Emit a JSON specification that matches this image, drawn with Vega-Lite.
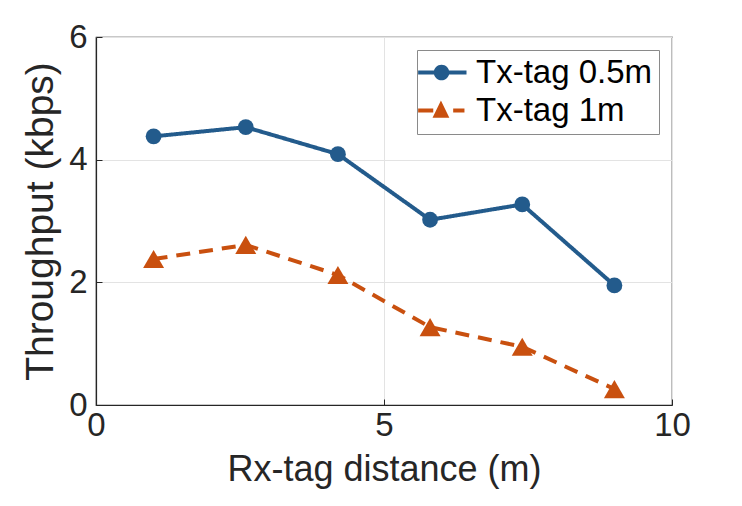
{
  "$schema": "https://vega.github.io/schema/vega-lite/v6.json",
  "width": 576,
  "height": 368,
  "autosize": {"type": "none"},
  "padding": {"left": 96, "top": 37, "right": 70, "bottom": 101},
  "background": "white",
  "config": {
    "font": "Liberation Sans",
    "view": {"stroke": "#262626", "strokeWidth": 1.2},
    "axis": {
      "domainColor": "#262626",
      "domainWidth": 1.2,
      "tickColor": "#262626",
      "tickSize": -6,
      "tickWidth": 1,
      "gridColor": "#e3e3e3",
      "gridWidth": 1,
      "labelFlush": false,
      "labelFont": "Liberation Sans",
      "labelFontSize": 33,
      "labelColor": "#262626",
      "titleFont": "Liberation Sans",
      "titleFontWeight": "normal",
      "titleColor": "#262626"
    },
    "legend": {
      "orient": "none",
      "legendX": 321,
      "legendY": 13,
      "padding": 6,
      "strokeColor": "#8a8a8a",
      "fillColor": "white",
      "labelFont": "Liberation Sans",
      "labelFontSize": 33,
      "labelColor": "black",
      "labelLimit": 400,
      "labelOffset": 20,
      "rowPadding": 4,
      "symbolSize": 576,
      "symbolStrokeWidth": 0,
      "symbolOpacity": 1
    }
  },
  "data": {
    "values": [
      {"x": 1.0, "y": 4.38, "series": "Tx-tag 0.5m"},
      {"x": 2.6, "y": 4.53, "series": "Tx-tag 0.5m"},
      {"x": 4.2, "y": 4.09, "series": "Tx-tag 0.5m"},
      {"x": 5.8, "y": 3.02, "series": "Tx-tag 0.5m"},
      {"x": 7.4, "y": 3.27, "series": "Tx-tag 0.5m"},
      {"x": 9.0, "y": 1.95, "series": "Tx-tag 0.5m"},
      {"x": 1.0, "y": 2.38, "series": "Tx-tag 1m"},
      {"x": 2.6, "y": 2.61, "series": "Tx-tag 1m"},
      {"x": 4.2, "y": 2.12, "series": "Tx-tag 1m"},
      {"x": 5.8, "y": 1.27, "series": "Tx-tag 1m"},
      {"x": 7.4, "y": 0.95, "series": "Tx-tag 1m"},
      {"x": 9.0, "y": 0.26, "series": "Tx-tag 1m"}
    ]
  },
  "encoding": {
    "x": {
      "field": "x",
      "type": "quantitative",
      "scale": {"domain": [0, 10], "nice": false},
      "axis": {
        "values": [0, 5, 10],
        "title": "Rx-tag distance (m)",
        "titleFontSize": 36,
        "labelPadding": 10,
        "titlePadding": 10
      }
    },
    "y": {
      "field": "y",
      "type": "quantitative",
      "scale": {"domain": [0, 6], "nice": false},
      "axis": {
        "values": [0, 2, 4, 6],
        "title": "Throughput (kbps)",
        "titleFontSize": 39,
        "labelPadding": 15,
        "titlePadding": 8
      }
    },
    "color": {
      "field": "series",
      "type": "nominal",
      "scale": {"domain": ["Tx-tag 0.5m", "Tx-tag 1m"], "range": ["#235b8c", "#c9500f"]},
      "legend": {
        "title": null,
        "encode": {
          "symbols": {
            "update": {
              "shape": {
                "signal": "datum.value === 'Tx-tag 0.5m' ? 'M-1.78,-0.16H2.25V0.16H-1.78Z M0.82,0A0.65,0.65 0 1,1 -0.48,0A0.65,0.65 0 1,1 0.82,0Z' : 'M-1.78,-0.16H-0.52V0.16H-1.78Z M1.14,-0.16H2.08V0.16H1.14Z M0.12,-0.83L0.82,0.6L-0.58,0.6Z'"
              }
            }
          }
        }
      }
    }
  },
  "layer": [
    {
      "mark": {"type": "line", "strokeWidth": 4},
      "encoding": {
        "strokeDash": {
          "field": "series",
          "type": "nominal",
          "scale": {"domain": ["Tx-tag 0.5m", "Tx-tag 1m"], "range": [[1, 0], [14, 9]]},
          "legend": null
        }
      }
    },
    {
      "mark": {"type": "point", "filled": true, "opacity": 1},
      "encoding": {
        "shape": {"condition": {"test": "datum.series === 'Tx-tag 1m'", "value": "triangle-up"}, "value": "circle"},
        "size": {"condition": {"test": "datum.series === 'Tx-tag 1m'", "value": 440}, "value": 250}
      }
    }
  ]
}
